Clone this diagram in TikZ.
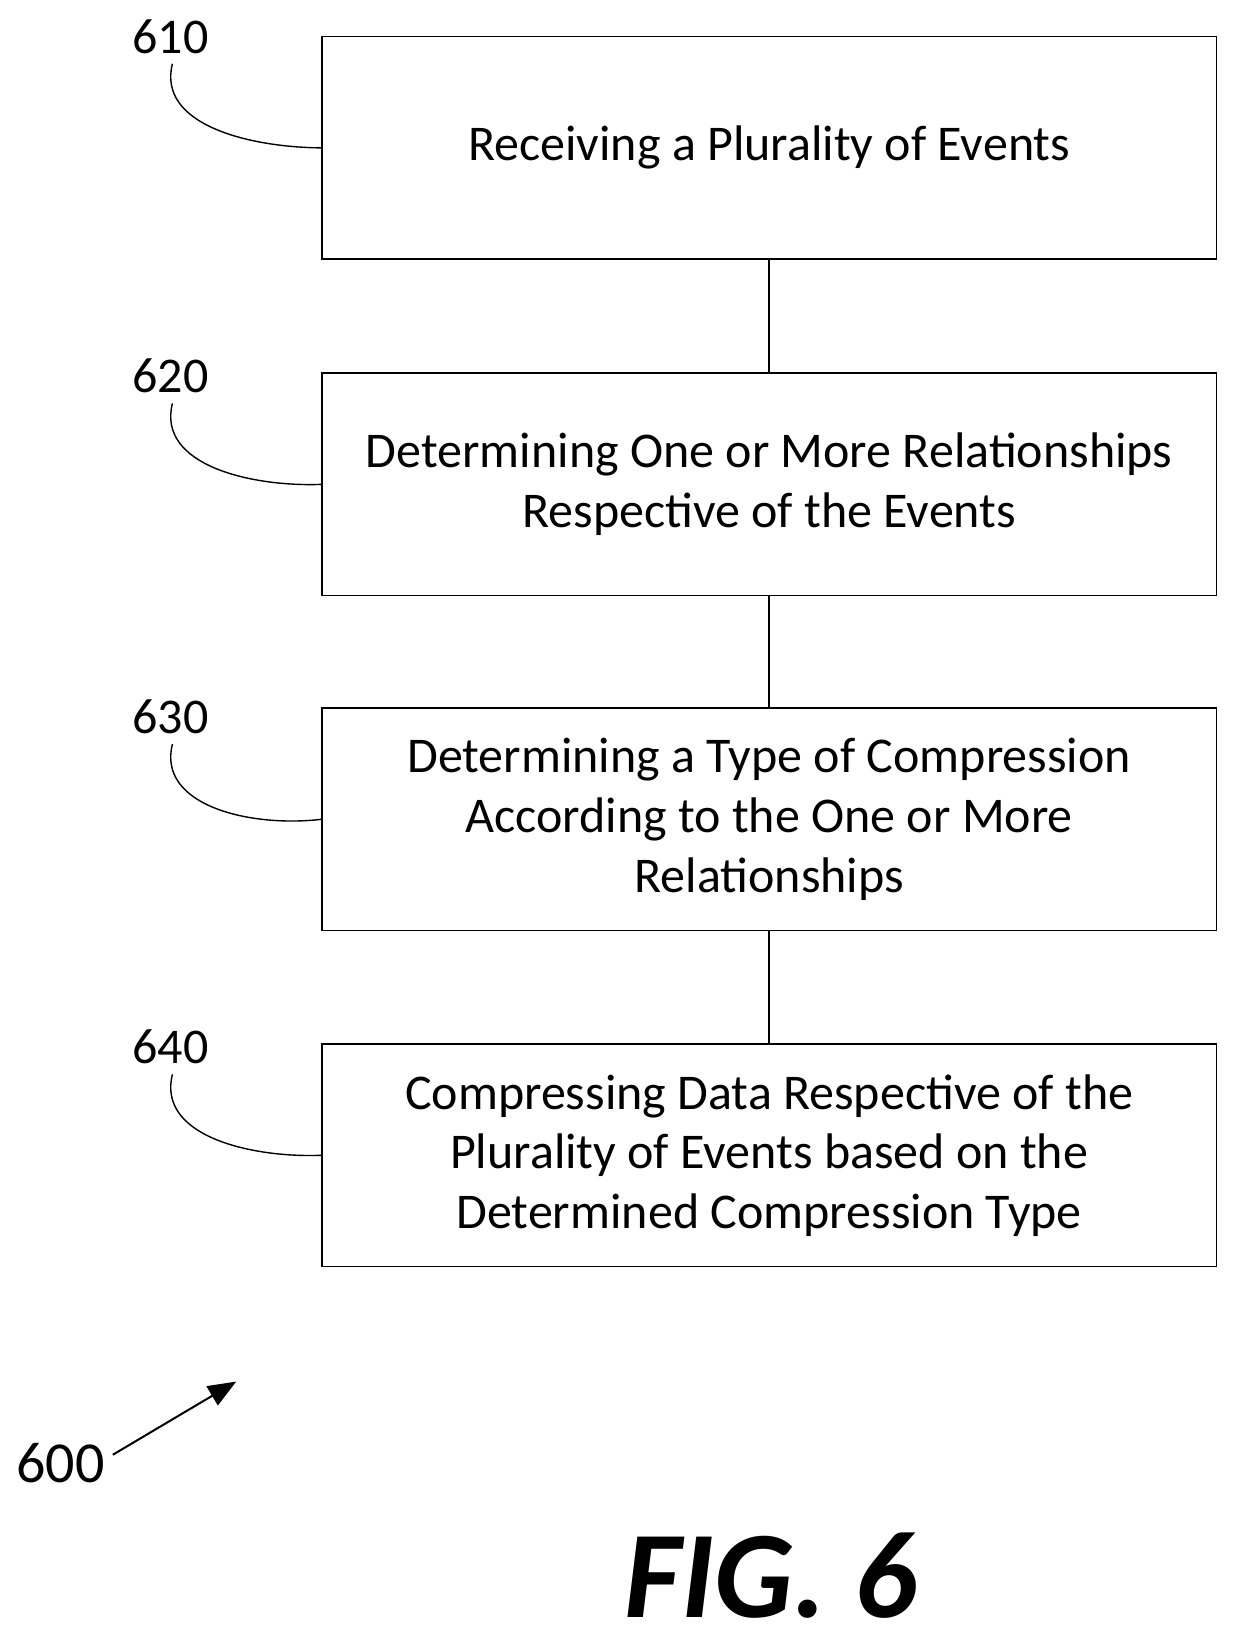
\documentclass[tikz,border=0pt]{standalone}
\usepackage{fontspec}
\setmainfont{Carlito}
\usetikzlibrary{arrows.meta}
\begin{document}
\begin{tikzpicture}[x=0.5225pt,y=-0.5225pt,
 box/.style={draw,line width=0.7pt,minimum width=447.2pt,minimum height=111.3pt,align=center,font=\fontsize{25}{29.8}\selectfont,inner sep=0pt},
 lab/.style={font=\fontsize{25}{28}\selectfont},
 lead/.style={line width=0.7pt}]
\useasboundingbox (0,0) rectangle (1190,1576);
\node[box] (b1) at (736,141.5) {Receiving a Plurality of Events};
\node[box] (b2) at (736,463.5) {Determining One or More Relationships\\Respective of the Events};
\node[box] (b3) at (736,784) {Determining a Type of Compression\\According to the One or More\\Relationships};
\node[box] (b4) at (736,1105.5) {Compressing Data Respective of the\\Plurality of Events based on the\\Determined Compression Type};
\draw[lead] (b1.south) -- (b2.north);
\draw[lead] (b2.south) -- (b3.north);
\draw[lead] (b3.south) -- (b4.north);
\foreach \n/\y/\b in {610/35/b1,620/360/b2,630/686/b3,640/1002/b4}{
 \node[lab] (l\n) at (163,\y) {\n};
 \draw[lead] (165,\y+26) .. controls (150,\y+85) and (240,\y+106) .. (\b.west);
}
\node[font=\fontsize{29}{32}\selectfont] (l600) at (58,1400) {600};
\coordinate (a600) at (226,1322);
\draw[lead,line width=1pt,-{Triangle[length=14pt,width=11pt]}] (108,1392) -- (a600);
\node[font=\fontsize{62}{70}\selectfont\bfseries\itshape,inner sep=0pt] (fig) at (738,1508) {FIG. 6};
\end{tikzpicture}
\end{document}
